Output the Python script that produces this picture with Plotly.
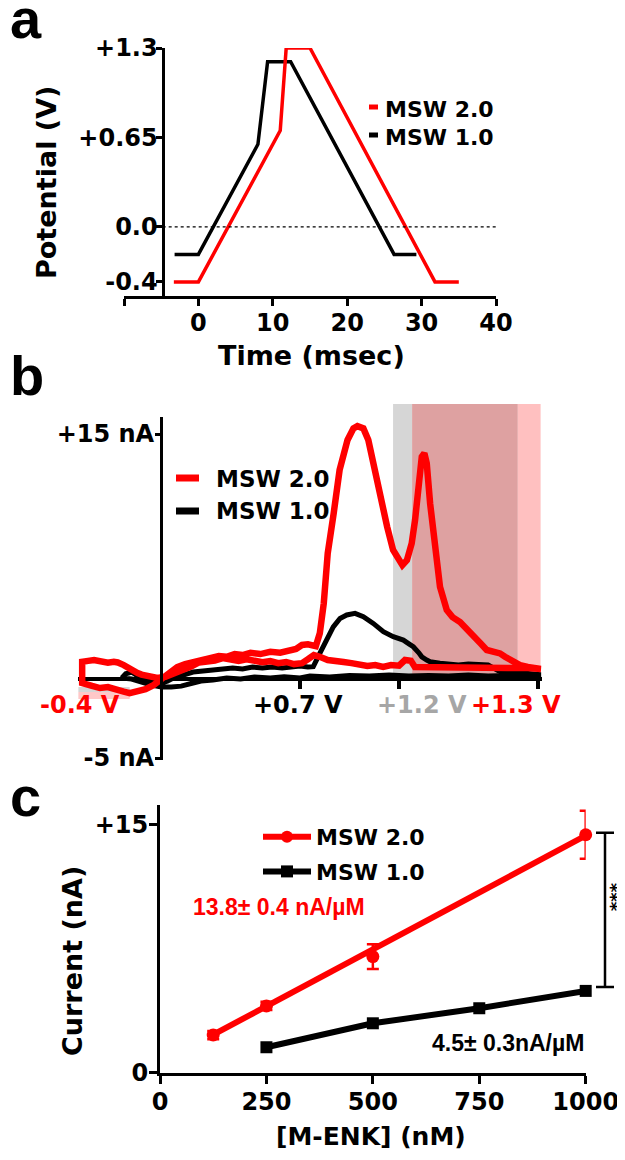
import plotly.graph_objects as go

# ---------------- Panel a: waveforms ----------------
t_msw1 = [-3.2, 0, 8.0, 9.3, 12.4, 26.3, 29.3]
v_msw1 = [-0.2, -0.2, 0.6, 1.2, 1.2, -0.2, -0.2]
t_msw2 = [-3.3, 0, 11.0, 11.8, 15.0, 31.8, 35.0]
v_msw2 = [-0.4, -0.4, 0.7, 1.3, 1.3, -0.4, -0.4]
a_xticks = [-10, 0, 10, 20, 30, 40]
a_xticklabels = ["", "0", "10", "20", "30", "40"]
a_yticks = [-0.4, 0.0, 0.65, 1.3]
a_yticklabels = ["-0.4", "0.0", "+0.65", "+1.3"]

# ---------------- Panel b: cyclic voltammograms ----------------
cv2_v = [-0.40, -0.40, -0.35, -0.31, -0.27, -0.23, -0.19, -0.16, -0.12, -0.08, -0.04, -0.01,
         0.04, 0.08, 0.12, 0.16, 0.20, 0.25, 0.29, 0.33, 0.37, 0.41, 0.45, 0.50, 0.55, 0.60,
         0.64, 0.68, 0.71, 0.74, 0.78, 0.80, 0.82, 0.84, 0.87, 0.90, 0.94, 0.97, 0.99, 1.02,
         1.045, 1.07, 1.10, 1.14, 1.17, 1.20, 1.217, 1.24, 1.264, 1.281, 1.297, 1.315, 1.328,
         1.340, 1.357, 1.382, 1.407, 1.441, 1.47, 1.508, 1.54, 1.575, 1.61, 1.643, 1.68, 1.71,
         1.735, 1.761, 1.79, 1.811, 1.85, 1.895, 1.917,
         1.85, 1.75, 1.65, 1.55, 1.45, 1.35, 1.30, 1.28, 1.26, 1.23, 1.20, 1.16, 1.12, 1.08,
         1.04, 1.00, 0.96, 0.92, 0.88, 0.84, 0.80, 0.77, 0.74, 0.71, 0.67, 0.63, 0.59, 0.55,
         0.51, 0.47, 0.43, 0.39, 0.35, 0.31, 0.27, 0.23, 0.19, 0.15, 0.11, 0.06, 0.02, -0.02,
         -0.07, -0.10, -0.12, -0.16, -0.19, -0.22, -0.24, -0.27, -0.30, -0.34, -0.37, -0.40,
         -0.40]
cv2_i = [0.43, -0.37, -0.55, -0.68, -0.62, -0.80, -0.90, -0.99, -0.90, -0.75, -0.50, -0.25,
         0.25, 0.62, 0.80, 0.93, 1.05, 1.17, 1.30, 1.25, 1.42, 1.36, 1.50, 1.42, 1.56, 1.50,
         1.60, 1.73, 1.98, 2.02, 1.91, 2.70, 4.55, 7.64, 10.10, 12.78, 14.63, 15.35, 15.49, 15.35,
         14.63, 13.19, 11.13, 9.28, 7.84, 7.12, 6.91, 7.22, 8.25, 9.69, 11.75, 13.60, 13.81,
         13.19, 10.72, 7.64, 5.57, 4.14, 3.70, 3.40, 2.95, 2.49, 2.10, 1.67, 1.55, 1.46,
         1.25, 1.05, 0.85, 0.74, 0.62, 0.54, 0.50,
         0.56, 0.56, 0.56, 0.56, 0.60, 0.56, 0.56, 0.62, 1.00, 1.05, 0.70, 0.74, 0.62, 0.74,
         0.68, 0.80, 0.86, 0.93, 1.00, 1.05, 1.25, 1.36, 1.10, 0.86, 0.80, 0.93, 0.86, 0.98,
         0.92, 1.05, 1.10, 1.00, 1.12, 1.17, 1.02, 0.98, 0.90, 0.65, 0.45, 0.20, 0.02, -0.06,
         0.02, 0.15, 0.25, 0.56, 0.74, 0.90, 0.94, 0.88, 0.94, 1.05, 1.00, 0.94,
         0.43]

cv1_v = [-0.20, -0.18, -0.15, -0.12, -0.09, -0.05, -0.01, 0.03, 0.07, 0.11, 0.16, 0.21,
         0.26, 0.31, 0.36, 0.41, 0.46, 0.51, 0.56, 0.61, 0.66, 0.70, 0.74, 0.767, 0.80, 0.835,
         0.868, 0.902, 0.936, 0.978, 1.02, 1.07, 1.121, 1.171, 1.222, 1.25, 1.272, 1.30, 1.315,
         1.34, 1.357, 1.407, 1.45, 1.50, 1.55, 1.60, 1.65, 1.70, 1.80, 1.917,
         1.85, 1.75, 1.65, 1.55, 1.45, 1.35, 1.25, 1.15, 1.05, 0.95, 0.85, 0.75, 0.70, 0.62,
         0.55, 0.47, 0.40, 0.33, 0.26, 0.20, 0.15, 0.10, 0.05, 0.00, -0.05, -0.10, -0.15, -0.20]
cv1_i = [-0.06, 0.20, 0.31, 0.05, -0.20, -0.35, -0.40, -0.25, 0.00, 0.12, 0.31, 0.37,
         0.43, 0.50, 0.56, 0.50, 0.62, 0.56, 0.62, 0.56, 0.62, 0.68, 0.62, 0.64, 1.46, 2.28,
         3.10, 3.62, 3.83, 3.93, 3.72, 3.31, 2.80, 2.49, 2.28, 2.05, 1.87, 1.50, 1.25,
         1.05, 0.94, 0.85, 0.80, 0.74, 0.80, 0.74, 0.74, 0.40, 0.25, 0.15,
         0.06, 0.10, 0.06, 0.12, 0.06, 0.10, 0.06, 0.12, 0.06, 0.10, 0.00, 0.06, -0.06, 0.02,
         -0.06, 0.00, -0.12, -0.06, -0.18, -0.25, -0.40, -0.56, -0.62, -0.62, -0.50, -0.30, -0.12, -0.06]
b_xticks = [0.7, 1.2, 1.9]
b_yticks = [-5, 15]
b_yticklabels = ["-5 nA", "+15 nA"]

# ---------------- Panel c: calibration ----------------
conc2 = [125, 250, 500, 1000]
cur2 = [2.28, 4.04, 7.03, 14.40]
err2 = [0.25, 0.25, 0.75, 1.45]
fit2_x = [125, 1000]
fit2_y = [2.30, 14.35]
conc1 = [250, 500, 750, 1000]
cur1 = [1.54, 2.99, 3.90, 4.95]
c_xticks = [0, 250, 500, 750, 1000]
c_yticks = [0, 15]
c_yticklabels = ["0", "+15"]
sig_top, sig_bottom = 14.52, 5.19

RED = "#ff0000"
BLACK = "#000000"
FONT = "DejaVu Sans"
FONT2 = "Liberation Sans"
# page body has an 8px margin: the figure starts at (8, 8) in the window;
# the height is chosen so that the page does not need a vertical scrollbar
OFF = 8
FW, FH = 625 - OFF, 1160 - 2 * OFF


def px(x):
    return (x - OFF) / FW


def py(y):
    return 1 - (y - OFF) / FH


TF = dict(family=FONT, size=24, color=BLACK, weight="bold")

fig = go.Figure()

# panel a traces
fig.add_trace(go.Scatter(x=t_msw1, y=v_msw1, mode="lines", line=dict(color=BLACK, width=3.5),
                         xaxis="x", yaxis="y", showlegend=False))
fig.add_trace(go.Scatter(x=t_msw2, y=v_msw2, mode="lines", line=dict(color=RED, width=3.5),
                         xaxis="x", yaxis="y", showlegend=False))

# panel b traces
fig.add_trace(go.Scatter(x=cv1_v, y=cv1_i, mode="lines", line=dict(color=BLACK, width=5),
                         xaxis="x2", yaxis="y2", showlegend=False))
fig.add_trace(go.Scatter(x=cv2_v, y=cv2_i, mode="lines", line=dict(color=RED, width=6.5),
                         xaxis="x2", yaxis="y2", showlegend=False))

# panel c traces
fig.add_trace(go.Scatter(x=fit2_x, y=fit2_y, mode="lines", line=dict(color=RED, width=6),
                         xaxis="x3", yaxis="y3", showlegend=False))
fig.add_trace(go.Scatter(x=conc2, y=cur2, mode="markers",
                         marker=dict(color=RED, size=13, symbol="circle"),
                         error_y=dict(type="data", array=err2, color=RED, thickness=2.5, width=6),
                         xaxis="x3", yaxis="y3", showlegend=False, cliponaxis=False))
fig.add_trace(go.Scatter(x=[None], y=[None], mode="lines+markers", name="MSW 2.0",
                         line=dict(color=RED, width=6), marker=dict(color=RED, size=12),
                         xaxis="x3", yaxis="y3", legendgroup="g2"))
fig.add_trace(go.Scatter(x=conc1, y=cur1, mode="lines+markers", name="MSW 1.0",
                         line=dict(color=BLACK, width=6),
                         marker=dict(color=BLACK, size=12, symbol="square"),
                         xaxis="x3", yaxis="y3", legendgroup="g1", cliponaxis=False))

axis_common = dict(showline=True, linecolor=BLACK, showgrid=False, zeroline=False,
                   ticks="outside", tickcolor=BLACK, tickfont=TF, fixedrange=True,
                   automargin=False)

fig.update_layout(
    width=FW, height=FH,
    margin=dict(l=0, r=0, t=0, b=0, pad=0, autoexpand=False),
    paper_bgcolor="white", plot_bgcolor="white",
    font=dict(family=FONT, color=BLACK),
    xaxis=dict(domain=[px(124), px(496)], range=[-10, 40], anchor="y",
               tickvals=a_xticks, ticktext=a_xticklabels, ticklen=7, tickwidth=3, linewidth=3,
               ticklabelstandoff=-4, **axis_common),
    yaxis=dict(domain=[py(295.7), py(48)], range=[-0.5, 1.3], anchor="free", position=px(162.5),
               tickvals=a_yticks, ticktext=a_yticklabels, ticklen=6, tickwidth=3, linewidth=3,
               ticklabelstandoff=-7, **axis_common),
    xaxis2=dict(domain=[px(78.2), px(541.6)], range=[-0.42, 1.92], anchor="free", position=py(679),
                tickvals=b_xticks, showticklabels=False, ticklen=8, tickwidth=3.5, linewidth=3.5,
                layer="below traces", **axis_common),
    yaxis2=dict(domain=[py(760), py(416.7)], range=[-5.12, 16.07], anchor="free", position=px(161),
                tickvals=b_yticks, ticktext=b_yticklabels, ticklen=5, tickwidth=3, linewidth=3,
                ticklabelstandoff=-4, **axis_common),
    xaxis3=dict(domain=[px(160), px(585.7)], range=[0, 1000], anchor="y3",
                tickvals=c_xticks, ticklen=8, tickwidth=3, linewidth=3,
                ticklabelstandoff=-3, **axis_common),
    yaxis3=dict(domain=[py(1072.7), py(805)], range=[0, 16.2], anchor="x3",
                tickvals=c_yticks, ticktext=c_yticklabels, ticklen=8, tickwidth=3, linewidth=3,
                ticklabelstandoff=-4, **axis_common),
    legend=dict(x=px(258), y=py(816), xanchor="left", yanchor="top",
                font=dict(family=FONT, size=22, color=BLACK, weight="bold"),
                bgcolor="rgba(0,0,0,0)", tracegroupgap=3, itemwidth=48),
)

shapes = []
# panel a dotted zero line
shapes.append(dict(type="line", xref="x", yref="y", x0=-4.8, x1=40, y0=0, y1=0,
                   line=dict(color=BLACK, width=1.2, dash="dot")))
# panel a legend dashes
shapes.append(dict(type="line", xref="paper", yref="paper", x0=px(369), x1=px(378), y0=py(107), y1=py(107),
                   line=dict(color=RED, width=5)))
shapes.append(dict(type="line", xref="paper", yref="paper", x0=px(369), x1=px(378), y0=py(135), y1=py(135),
                   line=dict(color=BLACK, width=5)))
# panel b shaded potential windows
shapes.append(dict(type="rect", xref="x2", yref="paper", x0=1.17, x1=1.266, y0=py(677), y1=py(404),
                   fillcolor="#d6d6d6", line=dict(width=0), layer="below"))
shapes.append(dict(type="rect", xref="x2", yref="paper", x0=1.266, x1=1.80, y0=py(677), y1=py(404),
                   fillcolor="#dea1a1", line=dict(width=0), layer="below"))
shapes.append(dict(type="rect", xref="x2", yref="paper", x0=1.80, x1=1.915, y0=py(677), y1=py(404),
                   fillcolor="#ffc0c0", line=dict(width=0), layer="below"))
shapes.append(dict(type="rect", xref="x2", yref="paper", x0=-0.42, x1=-0.16, y0=py(692), y1=py(687),
                   fillcolor="#d6d6d6", line=dict(width=0), layer="below"))
shapes.append(dict(type="rect", xref="x2", yref="paper", x0=-0.42, x1=-0.16, y0=py(699), y1=py(692),
                   fillcolor="#ffc8c8", line=dict(width=0), layer="below"))
# panel b legend dashes
shapes.append(dict(type="line", xref="paper", yref="paper", x0=px(176), x1=px(199), y0=py(478), y1=py(478),
                   line=dict(color=RED, width=7)))
shapes.append(dict(type="line", xref="paper", yref="paper", x0=px(176), x1=px(199), y0=py(511), y1=py(511),
                   line=dict(color=BLACK, width=7)))
# panel c significance bracket
shapes.append(dict(type="line", xref="paper", yref="y3", x0=px(605), x1=px(605), y0=sig_bottom, y1=sig_top,
                   line=dict(color=BLACK, width=2.5)))
shapes.append(dict(type="line", xref="paper", yref="y3", x0=px(596), x1=px(614), y0=sig_top, y1=sig_top,
                   line=dict(color=BLACK, width=2.5)))
shapes.append(dict(type="line", xref="paper", yref="y3", x0=px(596), x1=px(614), y0=sig_bottom, y1=sig_bottom,
                   line=dict(color=BLACK, width=2.5)))
fig.update_layout(shapes=shapes)


def ann(text, x, y, size, color=BLACK, family=FONT, xanchor="center", yanchor="middle", angle=0):
    return dict(text=text, x=x, y=y, xref="paper", yref="paper", showarrow=False,
                xanchor=xanchor, yanchor=yanchor, textangle=angle,
                font=dict(family=family, size=size, color=color, weight="bold"))


annotations = [
    ann("a", px(8), py(18), 56, family=FONT2, xanchor="left"),
    ann("b", px(8), py(375.6), 56, family=FONT2, xanchor="left"),
    ann("c", px(8), py(796.6), 56, family=FONT2, xanchor="left"),
    ann("Potential (V)", px(47), py(182), 27, angle=-90),
    ann("Time (msec)", px(311), py(356), 27),
    ann("MSW 2.0", px(383), py(109), 22, xanchor="left"),
    ann("MSW 1.0", px(383), py(137.5), 22, xanchor="left"),
    ann("MSW 2.0", px(214), py(479), 23, xanchor="left"),
    ann("MSW 1.0", px(214), py(511), 23, xanchor="left"),
    ann("-0.4 V", px(80), py(705), 24, color=RED),
    ann("+0.7 V", px(298), py(705), 24),
    ann("+1.2 V", px(422), py(705), 24, color="#a6a6a6"),
    ann("+1.3 V", px(516), py(705), 24, color=RED),
    ann("Current (nA)", px(72), py(961), 27, angle=-90),
    ann("[M-ENK] (nM)", px(370.6), py(1136.5), 25),
    ann("13.8\u00b1 0.4 nA/\u00b5M", px(279.3), py(906.7), 23, color=RED, family=FONT2),
    ann("4.5\u00b1 0.3nA/\u00b5M", px(508), py(1043.3), 23, family=FONT2),
    ann("***", px(612), py(897), 18, angle=90),
]
fig.update_layout(annotations=annotations)

fig.write_html("out.html")
